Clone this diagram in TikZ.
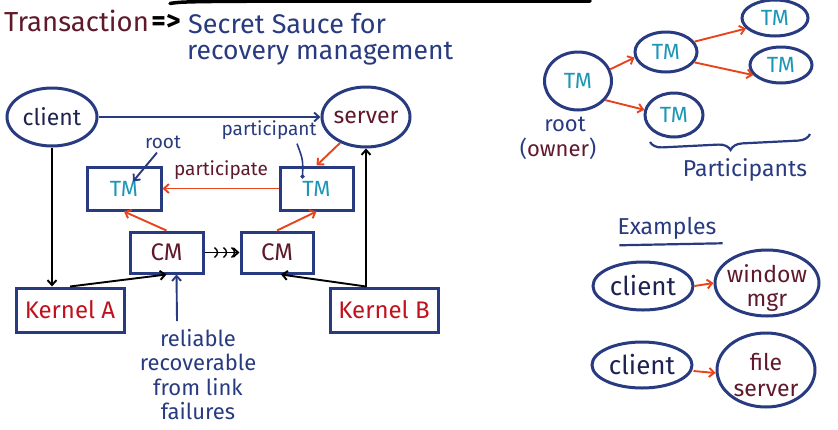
\documentclass[tikz,border=0pt]{standalone}
\usepackage{fontspec}
\setmainfont{Fira Sans}
\usetikzlibrary{arrows.meta,shapes.geometric,decorations.pathreplacing,calc}
\definecolor{navy}{RGB}{40,58,128}
\definecolor{darkn}{RGB}{30,34,80}
\definecolor{maroonc}{RGB}{95,25,42}
\definecolor{tmc}{RGB}{28,150,182}
\definecolor{orac}{RGB}{232,68,28}
\definecolor{kred}{RGB}{192,18,30}
\newcommand\tsz[2]{\fontsize{#1}{#2}\selectfont}
\begin{document}
\begin{tikzpicture}[x=1pt,y=-1pt,
  ell/.style={ellipse,draw=navy,line width=3pt,inner sep=0pt},
  boxn/.style={rectangle,draw=navy,line width=3pt,inner sep=0pt},
  arr/.style={-{Straight Barb[length=5pt,width=9pt]},line width=1.9pt},
  oarr/.style={arr,draw=orac},
  barr/.style={arr,draw=black},
  narr/.style={arr,draw=navy},
  lbl/.style={inner sep=0pt}
]
\useasboundingbox (0,0) rectangle (838,429);

% top stroke
\coordinate (topa) at (170,3.5);
\coordinate (topb) at (590,1);
\draw[line width=3.5pt,line cap=round] (topa) .. controls (185,1) .. (topb);

% title
\node[lbl,anchor=base west,text=maroonc,font=\tsz{27.5}{28}] (trans) at (4,31) {Transaction};
\node[lbl,font=\tsz{28}{28}\bfseries] (impl) at (166,22) {=>};
\node[lbl,anchor=base west,text=navy,font=\tsz{27}{28}] (sauce) at (188,33) {Secret Sauce for};
\node[lbl,anchor=base west,text=navy,font=\tsz{26.5}{28}] (recov) at (187,59) {recovery management};

% left diagram
\node[ell,minimum width=90pt,minimum height=58pt] (client) at (52,117) {};
\node[lbl,text=darkn,font=\tsz{23}{25}] (clientt) at (client) {client};
\node[ell,minimum width=88pt,minimum height=60pt] (server) at (366,117) {};
\node[lbl,text=maroonc,font=\tsz{23}{25}] (servert) at (server) {server};

\node[boxn,minimum width=74pt,minimum height=43pt,text=tmc,font=\tsz{22}{22}] (tmL) at (124,188.5) {TM};
\node[boxn,minimum width=73pt,minimum height=43pt,text=tmc,font=\tsz{22}{22}] (tmR) at (316.5,188.5) {TM};
\node[boxn,minimum width=73pt,minimum height=41pt,text=maroonc,font=\tsz{24}{24}] (cmL) at (166.5,252.5) {CM};
\node[boxn,minimum width=72pt,minimum height=41pt,text=maroonc,font=\tsz{24}{24}] (cmR) at (277,252.5) {CM};
\node[boxn,minimum width=108pt,minimum height=44pt,text=kred,font=\tsz{24}{24}] (kA) at (70,310) {Kernel A};
\node[boxn,minimum width=108pt,minimum height=44pt,text=kred,font=\tsz{24}{24}] (kB) at (384,310) {Kernel B};

\node[lbl,text=navy,font=\tsz{19}{20}] (rootl) at (163,142) {root};
\node[lbl,text=navy,font=\tsz{19}{20}] (partl) at (269,130) {participant};
\node[lbl,text=maroonc,font=\tsz{19}{20}] (partc) at (221,170) {participate};
\node[lbl,text=navy,font=\tsz{22}{24.5},align=center,anchor=north] (relt) at (198,329) {reliable\\recoverable\\from link\\failures};

\draw[narr] (client) -- (server);
\draw[barr] (client.south) -- (client.south |- kA.north);
\draw[barr] (kA.north) -- (cmL.south);
\coordinate (kBtop) at (server.south |- kB.north);
\draw[barr] (kBtop) -- (server.south);
\draw[barr] (kBtop) -- ($(cmR.south)+(4,0)$);
\draw[oarr] (server.-135) -- (tmR.north);
\draw[oarr] (tmR.west) -- (tmL.east);
\draw[oarr] (cmL.north) -- (tmL.south);
\draw[oarr] (cmR.north) -- (tmR.south);
\draw[barr] (cmL.east) -- (cmR.west);
\foreach \dx in {10,19,27}{
  \draw[line width=1.4pt] ($(cmL.east)+(\dx,-5)$) .. controls ($(cmL.east)+(\dx+4,-2)$) and ($(cmL.east)+(\dx+4,2)$) .. ($(cmL.east)+(\dx,5)$);
}
\draw[narr] ($(rootl.south)+(-6,4)$) -- ($(tmL.center)+(9,-7)$);
\draw[navy,line width=1.6pt,-{Circle[length=4pt]}] ($(partl.south)+(28,4)$) .. controls ($(partl.south)+(34,20)$) .. ($(tmR.center)+(-14,-10)$);
\draw[narr] ($(relt.north)+(-21,-8)$) -- ($(cmL.south)+(10,0)$);

% right tree
\node[ell,minimum width=67pt,minimum height=58pt] (root) at (578,81) {};
\node[lbl,text=tmc,font=\tsz{22}{22}] (roott) at (root) {TM};
\node[ell,minimum width=62pt,minimum height=40pt] (tm2) at (666,52) {};
\node[lbl,text=tmc,font=\tsz{22}{22}] (tm2t) at (tm2) {TM};
\node[ell,minimum width=66pt,minimum height=36pt] (tm3) at (775,18) {};
\node[lbl,text=tmc,font=\tsz{22}{22}] (tm3t) at (tm3) {TM};
\node[ell,minimum width=62pt,minimum height=36pt] (tm4) at (781,65) {};
\node[lbl,text=tmc,font=\tsz{22}{22}] (tm4t) at (tm4) {TM};
\node[ell,minimum width=58pt,minimum height=44pt] (tm5) at (674,115) {};
\node[lbl,text=tmc,font=\tsz{22}{22}] (tm5t) at (tm5) {TM};

\draw[oarr] (root.20) -- (tm2.190);
\draw[oarr] (root.-35) -- (tm5.170);
\draw[oarr] (tm2.20) -- (tm3.200);
\draw[oarr] (tm2.-20) -- (tm4.200);

\node[lbl,text=navy,font=\tsz{22}{24}] (rootw) at (565,124) {root};
\node[lbl,text=navy,font=\tsz{22}{24}] (owner) at (558,149) {(\textcolor{maroonc}{owner})};
\coordinate (bra) at (650,142);
\coordinate (brb) at (810,134);
\draw[navy,line width=2.2pt,decorate,decoration={brace,amplitude=12pt,mirror}] (bra) -- (brb);
\node[lbl,text=navy,font=\tsz{23}{24}] (parts) at (745,170) {Participants};

% examples
\node[lbl,text=navy,font=\tsz{23}{24}] (exl) at (667,228) {Examples};
\draw[navy,line width=2.2pt] ($(exl.south west)+(2,6)$) -- ($(exl.south east)+(6,4)$);
\node[ell,minimum width=100pt,minimum height=48pt] (c1) at (643,286) {};
\node[lbl,text=darkn,font=\tsz{26}{26}] (c1t) at (c1) {client};
\node[ell,minimum width=104pt,minimum height=66pt] (wm) at (767,283) {};
\node[lbl,text=maroonc,font=\tsz{23}{24},align=center] (wmt) at (767,288) {window\\mgr};
\node[ell,minimum width=100pt,minimum height=46pt] (c2) at (642,365) {};
\node[lbl,text=darkn,font=\tsz{26}{26}] (c2t) at (c2) {client};
\node[ell,minimum width=98pt,minimum height=74pt] (fs) at (766,370) {};
\node[lbl,text=maroonc,font=\tsz{23}{26},align=center] (fst) at (766,375) {file\\server};
\draw[oarr] (c1.east) -- (wm.west);
\draw[oarr] ($(c2.east)+(0,6)$) -- ($(fs.west)+(0,3)$);
\end{tikzpicture}
\end{document}
